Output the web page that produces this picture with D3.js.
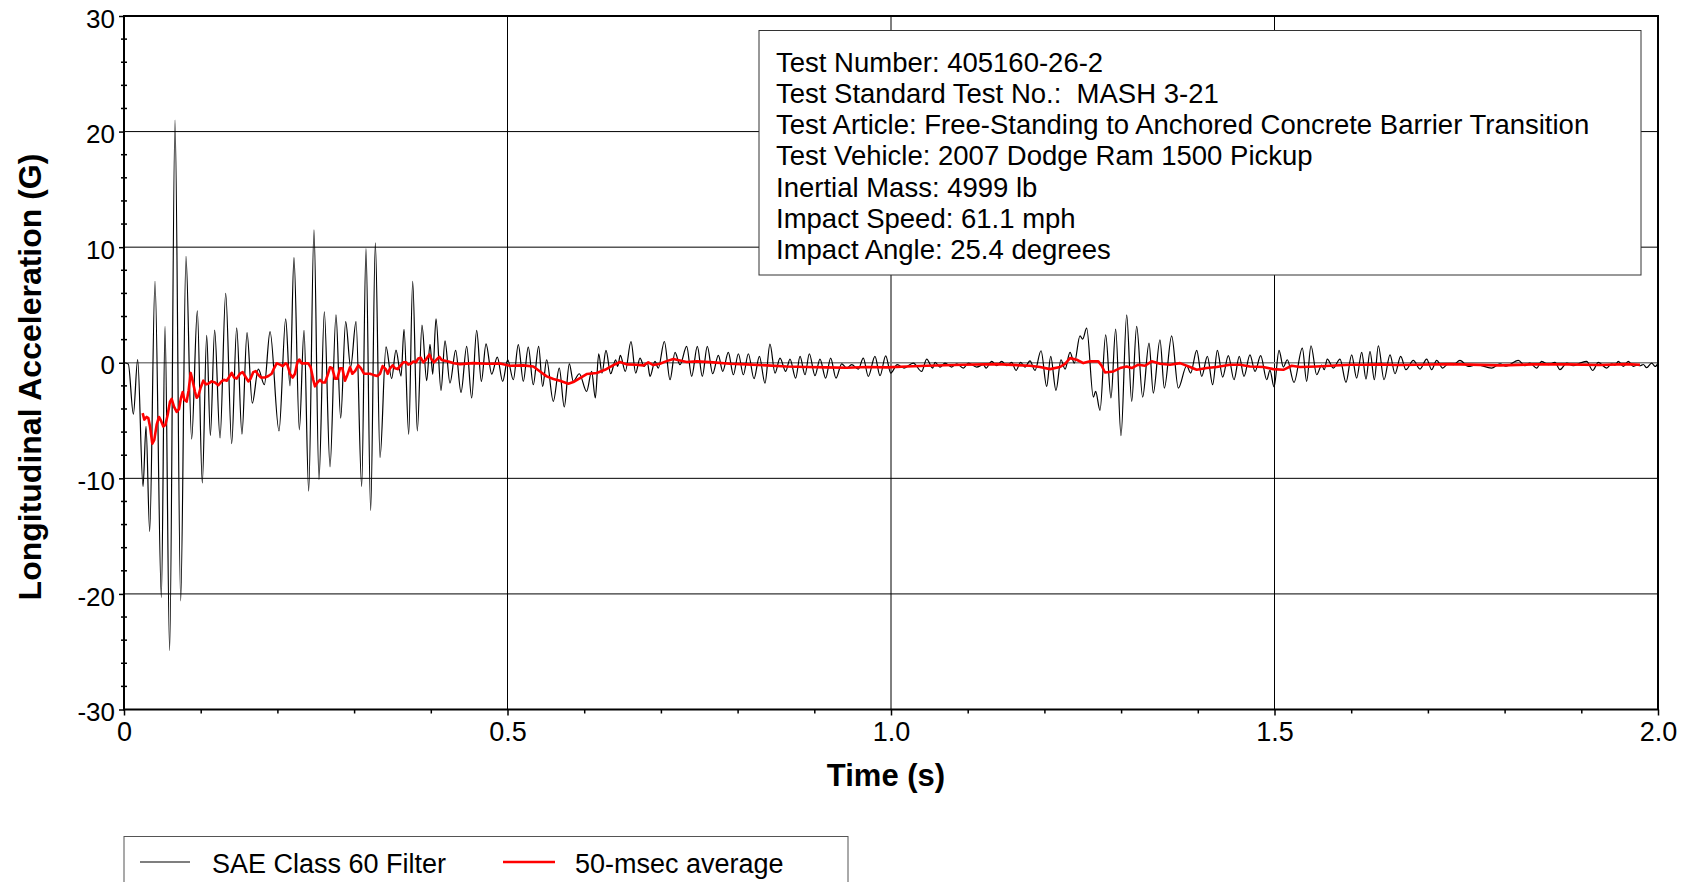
<!DOCTYPE html>
<html><head><meta charset="utf-8">
<script src="https://cdn.jsdelivr.net/npm/d3@7"></script>
<style>
body{margin:0;background:#fff}
svg{display:block}
text{font-family:"Liberation Sans",Arial,Helvetica,sans-serif;fill:#000}
</style>
</head><body>
<svg id="chart" width="1690" height="882"></svg>
<script>
// ---- data (time in s, acceleration in G) ----
const sae60 = [
[0,0],[0.0056,-0.1],[0.0122,-4.45],[0.0178,0.28],[0.0248,-10.7],[0.0287,-5.5],[0.0335,-14.6],[0.0404,7.05],
[0.0487,-20.3],[0.0535,3.15],[0.0595,-24.9],[0.0665,21.0],[0.0739,-20.6],[0.0808,9.2],[0.0882,-6.6],[0.0956,4.48],
[0.1021,-10.4],[0.1078,2.36],[0.1126,-6.3],[0.1182,2.83],[0.1252,-6.5],[0.1326,6.0],[0.1404,-7.0],[0.1469,3.02],
[0.1538,-6.17],[0.1604,2.6],[0.1673,-3.5],[0.1751,-0.55],[0.183,-1.9],[0.1904,2.7],[0.2021,-5.9],[0.2108,3.8],
[0.2164,-2.0],[0.2216,9.1],[0.2286,-5.8],[0.2347,2.8],[0.2408,-11.1],[0.2477,11.5],[0.2542,-10.1],[0.2612,4.4],
[0.2686,-9.0],[0.2764,4.15],[0.2825,-4.8],[0.289,3.55],[0.2955,-0.39],[0.3025,3.55],[0.3099,-10.7],[0.3155,9.87],
[0.3216,-12.8],[0.3277,10.37],[0.3338,-8.2],[0.3416,1.37],[0.349,-1.37],[0.3546,1.1],[0.3612,-1.15],[0.3651,2.9],
[0.3712,-6.2],[0.3764,7.05],[0.3824,-5.9],[0.3885,3.25],[0.3946,-1.55],[0.399,1.6],[0.4025,-1.0],[0.4068,3.8],
[0.4133,-2.4],[0.4185,1.9],[0.425,-1.76],[0.4324,1.07],[0.4394,-2.56],[0.4468,1.41],[0.4533,-3.05],[0.4598,2.8],
[0.4659,-1.61],[0.472,1.64],[0.4794,-0.98],[0.4867,0.49],[0.4937,-1.61],[0.5002,0.26],[0.5076,-1.47],[0.5141,1.56],
[0.5206,-1.61],[0.5271,1.35],[0.5336,-1.9],[0.5406,1.41],[0.5458,-2.05],[0.551,0.26],[0.5597,-3.34],[0.5675,-0.46],
[0.574,-3.83],[0.5806,-0.09],[0.5858,-1.61],[0.5936,-0.95],[0.6032,-2.48],[0.6097,-0.75],[0.6145,-3.05],[0.6189,0.78],
[0.6232,-0.89],[0.6284,1.07],[0.6345,-0.95],[0.641,0.26],[0.6436,-0.32],[0.6471,0.63],[0.6536,-0.75],[0.661,1.84],
[0.6671,-0.89],[0.6728,0.4],[0.678,-0.32],[0.6823,0.03],[0.6858,-1.18],[0.6923,0.12],[0.6966,-0.46],[0.7045,1.84],
[0.7119,-1.47],[0.7184,0.89],[0.7249,-0.17],[0.7336,1.41],[0.7401,-1.18],[0.7475,1.41],[0.754,-1.18],[0.7605,1.41],
[0.7675,-0.95],[0.7749,0.63],[0.7806,-0.75],[0.7879,0.89],[0.7945,-1.04],[0.801,0.78],[0.8075,-1.04],[0.814,0.78],
[0.8214,-1.38],[0.8284,0.55],[0.8357,-1.76],[0.8422,1.61],[0.8488,-0.89],[0.8553,0.4],[0.8627,-0.75],[0.8683,0.32],
[0.8757,-1.33],[0.8814,0.55],[0.8879,-1.04],[0.8935,0.78],[0.9009,-1.12],[0.9074,0.32],[0.9148,-1.33],[0.9213,0.4],
[0.9283,-1.33],[0.9357,-0.09],[0.9422,-0.46],[0.9487,-0.17],[0.9574,-0.55],[0.9639,0.4],[0.9704,-1.18],[0.9791,0.55],
[0.9857,-1.12],[0.9931,0.6],[0.9996,-0.89],[1.0082,-0.17],[1.017,-0.46],[1.029,-0.03],[1.04,-0.75],[1.0465,0.32],
[1.0543,-0.46],[1.0574,0.03],[1.0639,-0.37],[1.0704,-0.03],[1.0791,-0.37],[1.0856,-0.09],[1.0943,-0.46],[1.1008,-0.03],
[1.1117,-0.37],[1.1204,-0.17],[1.1239,-0.46],[1.1313,0.12],[1.1378,-0.26],[1.1443,0.12],[1.1508,-0.26],[1.1573,0.03],
[1.163,-0.66],[1.1691,0.03],[1.1747,-0.37],[1.1812,0.17],[1.1877,-0.66],[1.1956,1.04],[1.203,-2.05],[1.2082,0.55],
[1.2151,-2.39],[1.2216,0.26],[1.2269,-0.55],[1.2334,0.89],[1.239,-0.03],[1.2464,2.33],[1.2499,2.05],[1.2551,3.0],
[1.2638,-2.97],[1.2668,-2.48],[1.2725,-4.12],[1.2799,2.42],[1.2868,-3.05],[1.2929,2.91],[1.2999,-6.31],[1.3073,4.15],
[1.3138,-3.34],[1.3203,3.14],[1.3281,-2.97],[1.3364,1.7],[1.342,-2.62],[1.3507,1.99],[1.3564,-2.19],[1.3659,2.33],
[1.3746,-2.19],[1.3855,-0.26],[1.3907,-0.89],[1.3986,1.07],[1.4051,-1.18],[1.4125,0.55],[1.4194,-1.9],[1.4255,1.07],
[1.4324,-1.24],[1.4398,0.61],[1.4472,-1.47],[1.4541,0.55],[1.4602,-1.18],[1.468,0.69],[1.4746,-0.75],[1.482,0.61],
[1.4898,-1.47],[1.4941,-0.66],[1.4994,-2.1],[1.5059,1.07],[1.5115,-0.37],[1.5167,0.26],[1.5254,-1.7],[1.5363,1.27],
[1.5419,-1.61],[1.5476,1.47],[1.555,-1.04],[1.5615,-0.2],[1.5649,-0.6],[1.5688,0.32],[1.5767,-0.46],[1.5854,0.32],
[1.5932,-1.7],[1.6006,0.69],[1.6071,-1.33],[1.6137,0.89],[1.6193,-1.41],[1.6245,0.98],[1.6302,-1.47],[1.6354,1.47],
[1.6428,-1.47],[1.6506,0.69],[1.6571,-0.95],[1.6645,0.55],[1.6714,-0.6],[1.681,0.2],[1.6897,-0.55],[1.6984,0.32],
[1.7049,-0.6],[1.7114,0.2],[1.7192,-0.46],[1.7266,-0.09],[1.7331,-0.17],[1.7418,0.2],[1.7527,-0.32],[1.7636,-0.17],
[1.783,-0.46],[1.794,-0.09],[1.8018,-0.3],[1.8179,0.2],[1.8266,-0.26],[1.8331,-0.03],[1.8418,-0.46],[1.8483,0.12],
[1.857,-0.17],[1.8657,0.03],[1.8722,-0.6],[1.881,-0.03],[1.8896,-0.26],[1.8983,-0.03],[1.907,0.12],[1.9148,-0.66],
[1.9222,0.03],[1.9331,-0.46],[1.9396,-0.09],[1.944,-0.2],[1.9483,0.12],[1.9548,-0.32],[1.9613,0.12],[1.9678,-0.32],
[1.9722,-0.2],[1.9765,-0.26],[1.9809,-0.15],[1.9852,-0.43],[1.9917,-0.03],[1.9965,-0.32],[2.0,-0.03]
];
const avg50 = [
[0.0243,-4.36],[0.0265,-4.92],[0.0296,-4.69],[0.0317,-4.79],[0.0339,-5.51],[0.0369,-7.0],[0.0395,-6.67],[0.0426,-5.35],
[0.0456,-4.69],[0.0482,-5.01],[0.0513,-5.51],[0.0539,-5.38],[0.0569,-4.52],[0.06,-3.36],[0.0621,-3.13],[0.0652,-3.79],
[0.0687,-4.25],[0.0717,-4.02],[0.0743,-3.03],[0.0765,-2.53],[0.0787,-3.2],[0.0817,-3.36],[0.0843,-2.37],[0.0869,-0.88],
[0.0895,-1.55],[0.0926,-2.53],[0.0947,-3.03],[0.0969,-2.87],[0.1,-2.14],[0.1034,-1.55],[0.1069,-1.87],[0.1099,-1.81],
[0.1143,-1.61],[0.1186,-1.71],[0.123,-1.94],[0.1273,-1.61],[0.1304,-1.48],[0.1339,-1.55],[0.1373,-1.21],[0.1404,-0.88],
[0.1434,-1.28],[0.1469,-1.37],[0.1512,-0.95],[0.1547,-0.81],[0.1578,-1.15],[0.1621,-1.61],[0.1651,-1.37],[0.1686,-0.81],
[0.1717,-0.72],[0.1751,-1.05],[0.1786,-1.28],[0.1838,-1.28],[0.1882,-1.15],[0.1925,-0.95],[0.1956,-0.48],[0.199,-0.05],
[0.2034,-0.16],[0.2069,-0.29],[0.2108,-0.05],[0.2129,-0.16],[0.2164,-0.95],[0.2199,-1.28],[0.2229,-0.95],[0.226,0.04],
[0.2286,0.28],[0.2316,-0.05],[0.236,-0.05],[0.2403,-0.05],[0.2434,-0.39],[0.2468,-1.48],[0.249,-2.04],[0.2521,-1.71],
[0.2555,-1.48],[0.259,-1.71],[0.2621,-1.71],[0.2651,-1.15],[0.2686,-0.39],[0.2716,-0.48],[0.2751,-1.37],[0.2781,-1.37],
[0.2816,-0.48],[0.2847,-0.48],[0.2881,-1.55],[0.2912,-1.05],[0.2947,-0.39],[0.2977,-0.95],[0.3012,-0.72],[0.3055,-0.22],
[0.309,-0.48],[0.3129,-0.95],[0.3164,-0.95],[0.3207,-0.95],[0.3251,-1.05],[0.3303,-1.15],[0.3338,-0.95],[0.3372,-0.29],
[0.3412,-0.55],[0.3438,-0.95],[0.3468,-0.48],[0.3503,-0.22],[0.3533,-0.48],[0.3568,-0.55],[0.3598,-0.29],[0.3642,0.04],
[0.3677,0.04],[0.3707,-0.16],[0.3738,-0.09],[0.3772,0.11],[0.3807,0.04],[0.3837,0.37],[0.3868,0.44],[0.3903,0.04],
[0.3937,0.28],[0.3981,0.71],[0.4011,0.28],[0.4042,0.04],[0.4077,0.28],[0.4111,0.51],[0.4142,0.24],[0.4185,0.18],
[0.4229,0.1],[0.43,-0.05],[0.438,-0.12],[0.4555,-0.03],[0.4729,-0.09],[0.4902,-0.06],[0.5033,-0.26],[0.5206,-0.23],
[0.5337,-0.32],[0.5424,-0.75],[0.5511,-1.18],[0.5598,-1.41],[0.5684,-1.56],[0.5793,-1.82],[0.5858,-1.67],[0.5945,-1.33],
[0.6032,-0.98],[0.6163,-0.89],[0.6271,-0.61],[0.638,-0.2],[0.6467,0.06],[0.6554,-0.14],[0.6684,-0.17],[0.6771,-0.23],
[0.6836,0.03],[0.6901,-0.2],[0.6988,-0.09],[0.7075,0.14],[0.7162,0.32],[0.7249,0.2],[0.7336,0.06],[0.7467,0.12],
[0.7684,0.03],[0.7901,-0.09],[0.8118,-0.14],[0.8379,-0.23],[0.864,-0.32],[0.8901,-0.37],[0.9161,-0.4],[0.9422,-0.43],
[0.9683,-0.37],[0.9944,-0.4],[1.0204,-0.32],[1.0465,-0.26],[1.0943,-0.17],[1.1378,-0.12],[1.1812,-0.26],[1.1943,-0.37],
[1.2073,-0.55],[1.2203,-0.37],[1.2269,-0.09],[1.2334,0.4],[1.2421,0.26],[1.2508,-0.03],[1.2595,0.12],[1.2703,0.12],
[1.2747,-0.26],[1.279,-0.84],[1.2899,-0.75],[1.2986,-0.46],[1.3073,-0.32],[1.3138,-0.46],[1.3224,-0.17],[1.3312,-0.26],
[1.3399,0.12],[1.3507,-0.09],[1.3638,-0.17],[1.3768,-0.03],[1.3898,-0.37],[1.3986,-0.61],[1.4116,-0.46],[1.4246,-0.37],
[1.442,-0.17],[1.455,-0.17],[1.468,-0.32],[1.4854,-0.37],[1.4984,-0.55],[1.5115,-0.61],[1.5224,-0.26],[1.5332,-0.37],
[1.555,-0.32],[1.5724,-0.26],[1.5984,-0.17],[1.6158,-0.17],[1.6375,-0.14],[1.6593,-0.2],[1.6854,-0.17],[1.7288,-0.12],
[1.794,-0.23],[1.8375,-0.14],[1.881,-0.14],[1.9244,-0.2],[1.9592,-0.12],[1.9765,-0.17]
];
const xMajorTicks = [0, 0.5, 1.0, 1.5, 2.0];
const xTickLabels = ["0", "0.5", "1.0", "1.5", "2.0"];
const yMajorTicks = [-30, -20, -10, 0, 10, 20, 30];
const yTickLabels = ["-30", "-20", "-10", "0", "10", "20", "30"];
const gridY = [-20, -10, 10, 20];
const gridX = [0.5, 1.0, 1.5];
const infoLines = [
  "Test Number: 405160-26-2",
  "Test Standard Test No.:  MASH 3-21",
  "Test Article: Free-Standing to Anchored Concrete Barrier Transition",
  "Test Vehicle: 2007 Dodge Ram 1500 Pickup",
  "Inertial Mass: 4999 lb",
  "Impact Speed: 61.1 mph",
  "Impact Angle: 25.4 degrees"
];
const legendLabels = ["SAE Class 60 Filter", "50-msec average"];
const legendColors = ["#000000", "#ff0000"];
const xTitle = "Time (s)";
const yTitle = "Longitudinal Acceleration (G)";

// ---- layout ----
const L = 124, R = 1658, T = 16, B = 709.5;
const svg = d3.select("#chart");
const x = d3.scaleLinear().domain([0, 2]).range([L, R]);
const y = d3.scaleLinear().domain([-30, 30]).range([B, T]);

// grid
const g = svg.append("g");
g.selectAll(".gy").data(gridY).join("line")
  .attr("x1", L).attr("x2", R).attr("y1", d => y(d)).attr("y2", d => y(d))
  .attr("stroke", "#000").attr("stroke-width", 1);
g.selectAll(".gx").data(gridX).join("line")
  .attr("y1", T).attr("y2", B).attr("x1", d => x(d)).attr("x2", d => x(d))
  .attr("stroke", "#000").attr("stroke-width", 1);
g.append("line").attr("x1", L).attr("x2", R).attr("y1", y(0)).attr("y2", y(0))
  .attr("stroke", "#808080").attr("stroke-width", 1.6);

// series
const lineSmooth = d3.line().x(d => x(d[0])).y(d => y(d[1])).curve(d3.curveMonotoneX);
const lineAvg = d3.line().x(d => x(d[0])).y(d => y(d[1])).curve(d3.curveLinear);
svg.append("path").datum(sae60).attr("d", lineSmooth)
  .attr("fill", "none").attr("stroke", "#000").attr("stroke-width", 1.2).attr("stroke-linejoin", "round");
svg.append("path").datum(avg50).attr("d", lineAvg)
  .attr("fill", "none").attr("stroke", "#ff0000").attr("stroke-width", 2.6).attr("stroke-linejoin", "round");

// frame
svg.append("rect").attr("x", L).attr("y", T).attr("width", R - L).attr("height", B - T)
  .attr("fill", "none").attr("stroke", "#000").attr("stroke-width", 2);

// y axis
const yAxis = d3.axisLeft(y).tickValues(yMajorTicks).tickSize(5).tickPadding(4)
  .tickFormat((d, i) => yTickLabels[i]);
const ya = svg.append("g").attr("transform", `translate(${L},0)`).call(yAxis);
ya.select(".domain").remove();
ya.selectAll("line").attr("stroke", "#000").attr("stroke-width", 1.5);
ya.selectAll("text").attr("font-size", 26).attr("dy", "0.43em")
  .style("font-family", "'Liberation Sans', Arial, sans-serif").attr("fill", "#000");
svg.append("g").selectAll("line").data(d3.range(-30, 31, 2).filter(v => v % 10 !== 0)).join("line")
  .attr("x1", L - 3).attr("x2", L + 3).attr("y1", d => y(d)).attr("y2", d => y(d))
  .attr("stroke", "#000").attr("stroke-width", 1.5);

// x axis
const xAxis = d3.axisBottom(x).tickValues(xMajorTicks).tickSize(6).tickPadding(6)
  .tickFormat((d, i) => xTickLabels[i]);
const xa = svg.append("g").attr("transform", `translate(0,${B})`).call(xAxis);
xa.select(".domain").remove();
xa.selectAll("line").attr("stroke", "#000").attr("stroke-width", 1.5);
xa.selectAll("text").attr("font-size", 27)
  .style("font-family", "'Liberation Sans', Arial, sans-serif").attr("fill", "#000");
const xMinor = d3.range(1, 20).map(i => i / 10).filter(v => Math.abs(v * 2 - Math.round(v * 2)) > 1e-6);
const xm = svg.append("g").attr("transform", `translate(0,${B})`)
  .call(d3.axisBottom(x).tickValues(xMinor).tickSize(4).tickFormat(""));
xm.select(".domain").remove();
xm.selectAll("line").attr("stroke", "#000").attr("stroke-width", 1.5);

// titles
svg.append("text").attr("x", 886).attr("y", 786).attr("text-anchor", "middle")
  .attr("font-size", 31).attr("font-weight", "bold").text(xTitle);
svg.append("text").attr("transform", "translate(41,377) rotate(-90)").attr("text-anchor", "middle")
  .attr("font-size", 32).attr("font-weight", "bold").text(yTitle);

// info box
svg.append("rect").attr("x", 759).attr("y", 30.5).attr("width", 882).attr("height", 244.5)
  .attr("fill", "#fff").attr("stroke", "#333").attr("stroke-width", 1);
svg.append("g").selectAll("text").data(infoLines).join("text")
  .attr("x", 776).attr("y", (d, i) => 71.7 + i * 31.2).attr("font-size", 27.5)
  .style("white-space", "pre").attr("xml:space", "preserve").text(d => d);

// legend
svg.append("rect").attr("x", 124).attr("y", 836.5).attr("width", 724).attr("height", 80)
  .attr("fill", "#fff").attr("stroke", "#555").attr("stroke-width", 1);
const legX = [[140, 190, 212], [503, 555, 575]];
legendLabels.forEach((lab, i) => {
  svg.append("line").attr("x1", legX[i][0]).attr("x2", legX[i][1]).attr("y1", 862).attr("y2", 862)
    .attr("stroke", legendColors[i]).attr("stroke-width", i === 0 ? 1.1 : 2.6);
  svg.append("text").attr("x", legX[i][2]).attr("y", 873).attr("font-size", 27).text(lab);
});
</script>
</body></html>
